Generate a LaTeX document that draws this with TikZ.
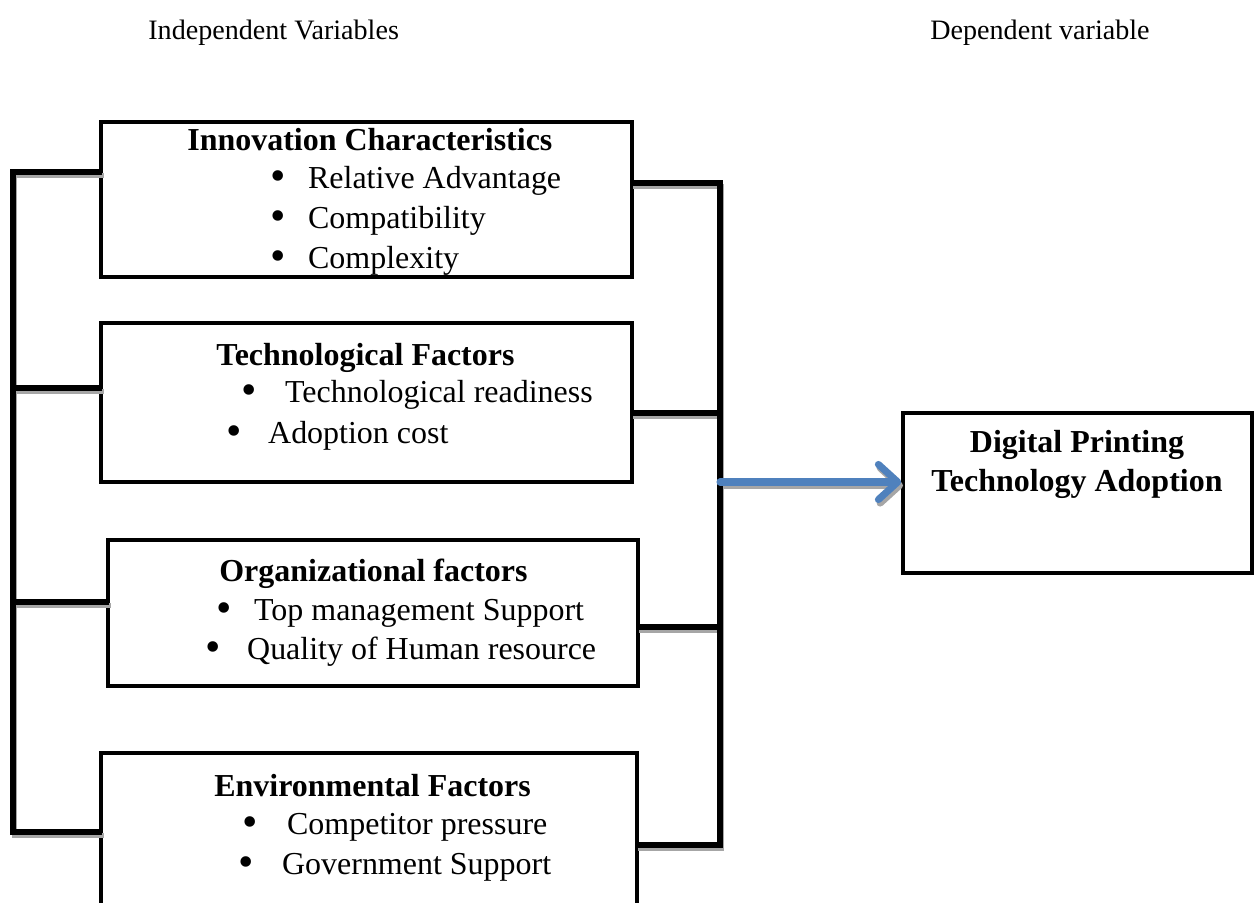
\documentclass[tikz,border=0pt]{standalone}
\usepackage{fontspec}
\setmainfont{Liberation Serif}
\usetikzlibrary{arrows.meta,fit}
\definecolor{linkblue}{RGB}{79,129,189}
\definecolor{shade}{RGB}{166,166,166}
\tikzset{
  factor/.style={draw, line width=2pt, inner sep=0pt},
  link/.style={line width=3pt, line cap=rect},
  linkshade/.style={link, draw=shade, transform canvas={xshift=1pt,yshift=-2pt}},
  flow/.style={draw=linkblue, line width=4pt, line cap=round,
    -{Straight Barb[length=11pt,width=20pt,round]}},
  txt/.style={anchor=base west, inner sep=0pt, font=\fontsize{18.2}{22}\selectfont},
  head/.style={txt, font=\fontsize{18.2}{22}\selectfont\bfseries},
  title/.style={txt, font=\fontsize{16}{19}\selectfont},
}
\newcommand{\itm}[2]{\makebox[#1][l]{\smash{\raisebox{-1.6pt}{\fontsize{25}{25}\selectfont\textbullet}}}#2}
\begin{document}
\begin{tikzpicture}[x=0.02cm,y=-0.02cm]
\clip (0,0) rectangle (1255,903);
\node (indep) [title] at (148,39) {Independent Variables};
\node (dep) [title] at (930,39) {Dependent variable};

\node (inno) [factor, fit={(101,122) (632,277)}] {};
\node (tech) [factor, fit={(101,323) (632,482)}] {};
\node (orga) [factor, fit={(108,540) (638,686)}] {};
\node (envi) [factor, fit={(101,753) (637,930)}] {};
\node (goal) [factor, fit={(903,413) (1252,573)}] {};

\node (innoh) [head] at (187,150) {Innovation Characteristics};
\node (inno1) [txt] at (270,188) {\itm{21.5pt}{Relative Advantage}};
\node (inno2) [txt] at (270,228) {\itm{21.5pt}{Compatibility}};
\node (inno3) [txt] at (270,268) {\itm{21.5pt}{Complexity}};

\node (techh) [head] at (216,365) {Technological Factors};
\node (tech1) [txt] at (241,402) {\itm{24.9pt}{Technological readiness}};
\node (tech2) [txt] at (226,443) {\itm{23.8pt}{Adoption cost}};

\node (orgah) [head] at (219,581) {Organizational factors};
\node (orga1) [txt] at (216,620) {\itm{21.5pt}{Top management Support}};
\node (orga2) [txt] at (205,659) {\itm{23.8pt}{Quality of Human resource}};

\node (envih) [head] at (214,796) {Environmental Factors};
\node (envi1) [txt] at (242,834) {\itm{25.5pt}{Competitor pressure}};
\node (envi2) [txt] at (238,874) {\itm{24.9pt}{Government Support}};

\node (goal1) [head, anchor=base] at (1077,452) {Digital Printing};
\node (goal2) [head, anchor=base] at (1077,491) {Technology Adoption};

\coordinate (l1) at (13,172);
\coordinate (l2) at (13,388);
\coordinate (l3) at (13,602);
\coordinate (l4) at (13,832);
\coordinate (r1) at (720,183);
\coordinate (r2) at (720,413);
\coordinate (r3) at (720,627);
\coordinate (r4) at (720,845);
\coordinate (ra) at (720,482);
\coordinate (b1) at (inno.west |- l1);
\coordinate (b2) at (tech.west |- l2);
\coordinate (b3) at (orga.west |- l3);
\coordinate (b4) at (envi.west |- l4);
\coordinate (e1) at (inno.east |- r1);
\coordinate (e2) at (tech.east |- r2);
\coordinate (e3) at (orga.east |- r3);
\coordinate (e4) at (envi.east |- r4);
\coordinate (ga) at (goal.west |- ra);

\foreach \a/\b in {l1/l4,r1/r4,l1/b1,l2/b2,l3/b3,l4/b4,e1/r1,e2/r2,e3/r3,e4/r4}
  \draw [linkshade] (\a) -- (\b);
\draw [flow, draw=shade, transform canvas={xshift=1pt,yshift=-2pt}] (ra) -- (ga);
\foreach \a/\b in {l1/l4,r1/r4,l1/b1,l2/b2,l3/b3,l4/b4,e1/r1,e2/r2,e3/r3,e4/r4}
  \draw [link] (\a) -- (\b);
\draw [flow] (ra) -- (ga);
\end{tikzpicture}
\end{document}
